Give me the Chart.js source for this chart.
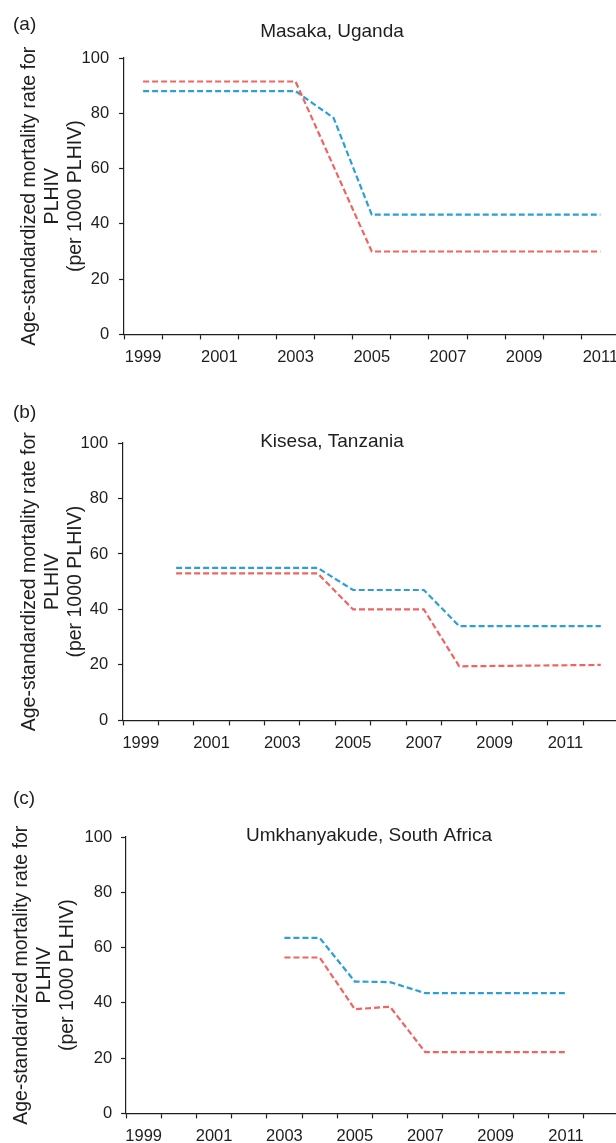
<!DOCTYPE html>
<html>
<head>
<meta charset="utf-8">
<style>
  body { margin: 0; background: #ffffff; overflow: hidden; width: 616px; height: 1143px; }
  .panel { position: absolute; left: 0; width: 616px; }
</style>
<script src="https://cdn.jsdelivr.net/npm/chart.js@4/dist/chart.umd.min.js"></script>
</head>
<body>
<div class="panel" style="top:0px;height:378px"><canvas id="chartA"></canvas></div>
<div class="panel" style="top:378px;height:386px"><canvas id="chartB"></canvas></div>
<div class="panel" style="top:762px;height:393px"><canvas id="chartC"></canvas></div>

<script>
// panel names
var panelTags = ['(a)', '(b)', '(c)'];
var siteNames = ['Masaka, Uganda', 'Kisesa, Tanzania', 'Umkhanyakude, South Africa'];
var yTitle = ['Age-standardized mortality rate for', 'PLHIV', '(per 1000 PLHIV)'];

// x ticks (one per year, labels on odd years)
var tickYearsA = [1999, 2000, 2001, 2002, 2003, 2004, 2005, 2006, 2007, 2008, 2009, 2010, 2011];
var tickYearsB = [1999, 2000, 2001, 2002, 2003, 2004, 2005, 2006, 2007, 2008, 2009, 2010, 2011, 2012];
var tickYearsC = [1999, 2000, 2001, 2002, 2003, 2004, 2005, 2006, 2007, 2008, 2009, 2010, 2011, 2012];
var yTicks = [0, 20, 40, 60, 80, 100];

// Masaka
var masakaRedYears = [1999, 2003, 2005, 2011];
var masakaRed = [91.5, 91.5, 30, 30];
var masakaBlueYears = [1999, 2003, 2004, 2005, 2011];
var masakaBlue = [88, 88, 78.3, 43.3, 43.3];

// Kisesa
var kisesaYears = [2000, 2004, 2005, 2007, 2008, 2012];
var kisesaRed = [53, 53, 40, 40, 19.5, 20];
var kisesaBlue = [55, 55, 47, 47, 34, 34];

// Umkhanyakude
var umkYears = [2003, 2004, 2005, 2006, 2007, 2011];
var umkRed = [56.4, 56.4, 37.7, 38.6, 22.2, 22.2];
var umkBlue = [63.5, 63.5, 47.7, 47.5, 43.5, 43.5];

var redCol = '#ef6461';
var blueCol = '#2b9fd6';
var txtCol = '#1e1e1e';
var fam = "'Liberation Sans', Arial, Helvetica, sans-serif";

Chart.defaults.font.family = fam;
Chart.defaults.color = txtCol;

function pts(xs, ys) {
    return xs.map(function (x, i) { return { x: x, y: ys[i] }; });
}

// draws the panel letter and the site name
var panelText = {
    id: 'panelText',
    afterDraw: function (chart, args, o) {
        var ctx = chart.ctx;
        ctx.save();
        ctx.fillStyle = txtCol;
        ctx.textBaseline = 'middle';
        ctx.font = '19px ' + fam;
        ctx.textAlign = 'left';
        ctx.fillText(o.tag, o.tagX, o.tagY);
        ctx.textAlign = 'center';
        ctx.fillText(o.site, o.siteX, o.siteY);
        ctx.restore();
    }
};

function makeChart(id, p) {
    var config = {
        type: 'line',
        data: {
            datasets: [{
                label: 'Red series',
                data: pts(p.redX, p.red),
                borderColor: redCol,
                borderWidth: 2.2,
                borderDash: [6, 3],
                pointRadius: 0,
                fill: false,
                tension: 0
            }, {
                label: 'Blue series',
                data: pts(p.blueX, p.blue),
                borderColor: blueCol,
                borderWidth: 2.2,
                borderDash: [6, 3],
                pointRadius: 0,
                fill: false,
                tension: 0
            }]
        },
        options: {
            responsive: true,
            maintainAspectRatio: false,
            animation: false,
            events: [],
            layout: {
                padding: { top: p.padTop, bottom: p.padBottom, left: p.padLeft, right: 0 }
            },
            plugins: {
                legend: { display: false },
                tooltip: { enabled: false },
                panelText: {
                    tag: p.tag, tagX: 13, tagY: p.tagY,
                    site: p.site, siteX: p.siteX, siteY: p.siteY
                }
            },
            scales: {
                x: {
                    type: 'linear',
                    min: 1998.5,
                    max: p.xMax,
                    afterBuildTicks: function (axis) {
                        axis.ticks = p.ticks.map(function (v) { return { value: v }; });
                    },
                    afterFit: function (axis) {
                        axis.paddingLeft = 0;
                        axis.paddingRight = 0;
                    },
                    border: { display: true, color: txtCol, width: 1.2 },
                    grid: {
                        offset: true,
                        drawOnChartArea: false,
                        drawTicks: true,
                        tickLength: 5,
                        tickColor: txtCol,
                        tickWidth: 1.2
                    },
                    ticks: {
                        autoSkip: false,
                        maxRotation: 0,
                        padding: 8,
                        font: { size: 16.5 },
                        color: txtCol,
                        callback: function (v) { return v % 2 === 1 ? String(v) : ''; }
                    }
                },
                y: {
                    min: 0,
                    max: 100,
                    afterBuildTicks: function (axis) {
                        axis.ticks = yTicks.map(function (v) { return { value: v }; });
                    },
                    border: { display: true, color: txtCol, width: 1.2 },
                    grid: {
                        drawOnChartArea: false,
                        drawTicks: true,
                        tickLength: 5,
                        tickColor: txtCol,
                        tickWidth: 1.2
                    },
                    ticks: {
                        padding: p.yTickPad,
                        font: { size: 16.5 },
                        color: txtCol
                    },
                    title: {
                        display: true,
                        text: yTitle,
                        color: txtCol,
                        font: { size: 19.5, lineHeight: 1.18 },
                        padding: { top: 4, bottom: p.yTitleBottom }
                    }
                }
            }
        },
        plugins: [panelText]
    };
    return new Chart(document.getElementById(id), config);
}

makeChart('chartA', {
    redX: masakaRedYears, red: masakaRed, blueX: masakaBlueYears, blue: masakaBlue,
    ticks: tickYearsA, xMax: 2011.41,
    padTop: 58, padBottom: 2.8, padLeft: 14.5, yTickPad: 10, yTitleBottom: -16,
    tag: panelTags[0], tagY: 25, site: siteNames[0], siteX: 332, siteY: 32
});

makeChart('chartB', {
    redX: kisesaYears, red: kisesaRed, blueX: kisesaYears, blue: kisesaBlue,
    ticks: tickYearsB, xMax: 2012.43,
    padTop: 65, padBottom: 2.8, padLeft: 14.5, yTickPad: 10, yTitleBottom: -17,
    tag: panelTags[1], tagY: 35, site: siteNames[1], siteX: 332, siteY: 64
});

makeChart('chartC', {
    redX: umkYears, red: umkRed, blueX: umkYears, blue: umkBlue,
    ticks: tickYearsC, xMax: 2012.42,
    padTop: 75, padBottom: 0.8, padLeft: 6.5, yTickPad: 9, yTitleBottom: -4,
    tag: panelTags[2], tagY: 37, site: siteNames[2], siteX: 369, siteY: 74
});
</script>
</body>
</html>
